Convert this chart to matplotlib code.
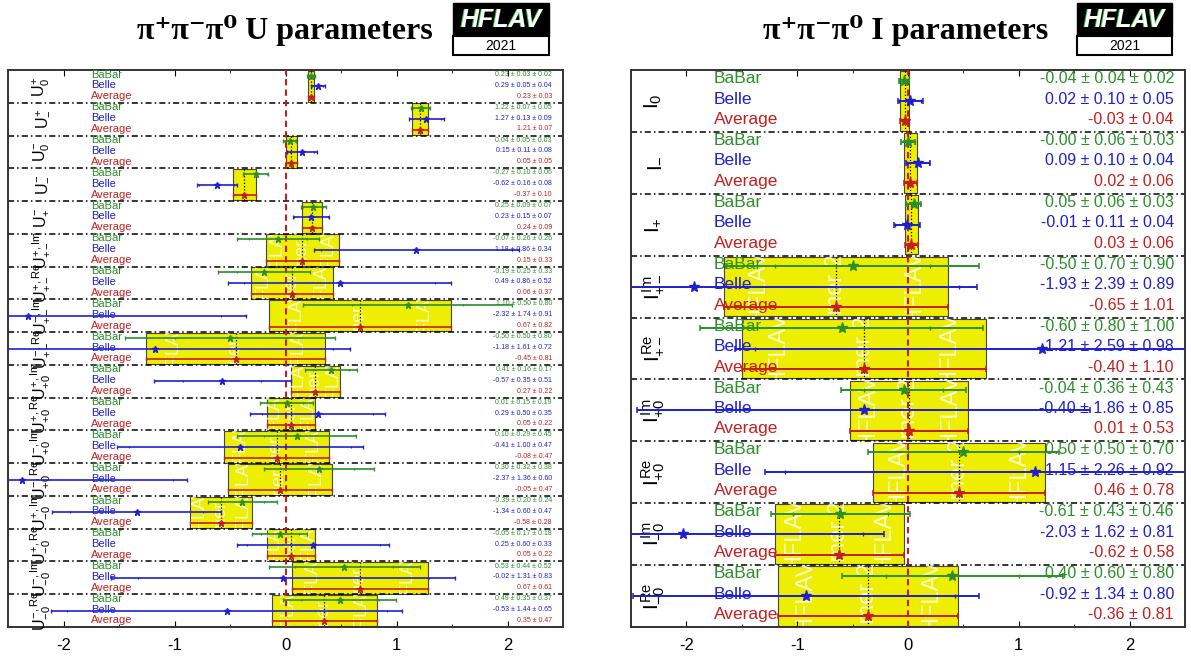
import numpy as np
import matplotlib
matplotlib.use('Agg')
import matplotlib.pyplot as plt
from matplotlib.patches import Rectangle

plt.rcParams['font.family'] = ['Liberation Sans', 'DejaVu Sans']
plt.rcParams['mathtext.fontset'] = 'custom'
plt.rcParams['mathtext.rm'] = 'Liberation Sans'
plt.rcParams['mathtext.it'] = 'Liberation Sans'
plt.rcParams['mathtext.bf'] = 'Liberation Sans:bold'
plt.rcParams['axes.unicode_minus'] = False

# U parameters (left panel)
u_labels = [r'$U_{0}^{+}$', r'$U_{-}^{+}$', r'$U_{0}^{-}$', r'$U_{-}^{-}$', r'$U_{+}^{-}$',
            r'$U_{+-}^{+,Im}$', r'$U_{+-}^{+,Re}$', r'$U_{+-}^{-,Im}$', r'$U_{+-}^{-,Re}$',
            r'$U_{+0}^{+,Im}$', r'$U_{+0}^{+,Re}$', r'$U_{+0}^{-,Im}$', r'$U_{+0}^{-,Re}$',
            r'$U_{-0}^{+,Im}$', r'$U_{-0}^{+,Re}$', r'$U_{-0}^{-,Im}$', r'$U_{-0}^{-,Re}$']
u_babar = [0.23, 1.22, 0.04, -0.27, 0.25, -0.07, -0.19, 1.10, -0.50, 0.41, 0.01, 0.10, 0.30, -0.39, -0.05, 0.53, 0.49]
u_babar_stat = [0.03, 0.07, 0.05, 0.10, 0.09, 0.26, 0.25, 0.50, 0.50, 0.16, 0.15, 0.29, 0.32, 0.20, 0.17, 0.44, 0.35]
u_babar_syst = [0.02, 0.05, 0.03, 0.06, 0.07, 0.26, 0.33, 0.80, 0.80, 0.17, 0.19, 0.45, 0.38, 0.24, 0.18, 0.52, 0.37]
u_belle = [0.29, 1.27, 0.15, -0.62, 0.23, 1.18, 0.49, -2.32, -1.18, -0.57, 0.29, -0.41, -2.37, -1.34, 0.25, -0.02, -0.53]
u_belle_stat = [0.05, 0.13, 0.11, 0.16, 0.15, 0.86, 0.86, 1.74, 1.61, 0.35, 0.50, 1.00, 1.36, 0.60, 0.60, 1.31, 1.44]
u_belle_syst = [0.04, 0.09, 0.08, 0.08, 0.07, 0.34, 0.52, 0.91, 0.72, 0.51, 0.35, 0.47, 0.60, 0.47, 0.33, 0.83, 0.65]
u_avg = [0.23, 1.21, 0.05, -0.37, 0.24, 0.15, 0.06, 0.67, -0.45, 0.27, 0.05, -0.08, -0.05, -0.58, 0.05, 0.67, 0.35]
u_avg_err = [0.03, 0.07, 0.05, 0.10, 0.09, 0.33, 0.37, 0.82, 0.81, 0.22, 0.22, 0.47, 0.47, 0.28, 0.22, 0.61, 0.47]

# I parameters (right panel)
i_labels = [r'$I_{0}$', r'$I_{-}$', r'$I_{+}$', r'$I_{+-}^{Im}$', r'$I_{+-}^{Re}$',
            r'$I_{+0}^{Im}$', r'$I_{+0}^{Re}$', r'$I_{-0}^{Im}$', r'$I_{-0}^{Re}$']
i_babar = [-0.04, -0.00, 0.05, -0.50, -0.60, -0.04, 0.50, -0.61, 0.40]
i_babar_stat = [0.04, 0.06, 0.06, 0.70, 0.80, 0.36, 0.50, 0.43, 0.60]
i_babar_syst = [0.02, 0.03, 0.03, 0.90, 1.00, 0.43, 0.70, 0.46, 0.80]
i_belle = [0.02, 0.09, -0.01, -1.93, 1.21, -0.40, 1.15, -2.03, -0.92]
i_belle_stat = [0.10, 0.10, 0.11, 2.39, 2.59, 1.86, 2.26, 1.62, 1.34]
i_belle_syst = [0.05, 0.04, 0.04, 0.89, 0.98, 0.85, 0.92, 0.81, 0.80]
i_avg = [-0.03, 0.02, 0.03, -0.65, -0.40, 0.01, 0.46, -0.62, -0.36]
i_avg_err = [0.04, 0.06, 0.06, 1.01, 1.10, 0.53, 0.78, 0.58, 0.81]

GREEN = '#2b8f2b'
BLUE = '#1f1fcf'
RED = '#c41f1f'
YELLOW = '#eeee00'


def draw_panel(ax, labels, bb, bb_st, bb_sy, be, be_st, be_sy, av, av_err,
               fs_name, fs_val, fs_lab, fs_wm, ms, lw, lab_x):
    n = len(labels)
    ax.set_xlim(-2.5, 2.5)
    ax.set_ylim(n, 0)
    for i in range(n):
        lo = av[i] - av_err[i]
        rect = Rectangle((lo, i + 0.02), 2 * av_err[i], 0.96, facecolor=YELLOW,
                         edgecolor='#444444', lw=0.8, zorder=1)
        ax.add_patch(rect)
        # faint watermark inside the wider boxes
        if 2 * av_err[i] > 0.3:
            for k, wm in enumerate(['HFLAV', 'summer 2016', 'HFLAV']):
                t = ax.text(lo + (0.15 + 0.35 * k) * 2 * av_err[i], i + 0.5, wm, rotation=90,
                            color='white', fontsize=fs_wm, ha='center', va='center',
                            alpha=0.8, zorder=1.5, clip_on=True)
                t.set_clip_path(rect)
        ax.plot([av[i], av[i]], [i + 0.02, i + 0.98], ls=':', color='black', lw=0.9, zorder=2)

        rows = [('BaBar', bb[i], bb_st[i], bb_sy[i], GREEN, 0.17),
                ('Belle', be[i], be_st[i], be_sy[i], BLUE, 0.5),
                ('Average', av[i], av_err[i], None, RED, 0.83)]
        for name, v, st, sy, c, off in rows:
            y = i + off
            tot = np.hypot(st, sy) if sy is not None else st
            ax.plot([v - tot, v + tot], [y, y], color=c, lw=lw, zorder=4, solid_capstyle='butt')
            ax.plot([v - tot, v + tot], [y, y], ls='none', marker='|', ms=ms * 0.5,
                    mew=lw * 0.8, color=c, zorder=4)
            if sy is not None:
                ax.plot([v - st, v + st], [y, y], ls='none', marker='|', ms=ms * 0.4,
                        mew=lw * 0.7, color=c, zorder=4)
            ax.plot(v, y, marker='*', ms=ms, color=c, mec=c, ls='none', zorder=5)
            ax.text(-1.75, y - 0.03, name, color=c, fontsize=fs_name, ha='left', va='center', zorder=3)
            if sy is not None:
                s = f'{v:.2f} \u00b1 {st:.2f} \u00b1 {sy:.2f}'
            else:
                s = f'{v:.2f} \u00b1 {st:.2f}'
            ax.text(2.4, y - 0.03, s, color=c, fontsize=fs_val, ha='right', va='center', zorder=3)
        ax.text(lab_x, i + 0.5, labels[i], rotation=90, fontsize=fs_lab, ha='center',
                va='center', color='black', zorder=3)
        if i > 0:
            ax.axhline(i, color='black', lw=1.1, ls=(0, (4, 2, 1, 2)), zorder=2)

    ax.axvline(0, color=RED, ls=(0, (3, 2)), lw=1.5, zorder=3)
    ax.set_xticks([-2, -1, 0, 1, 2])
    ax.set_xticks(np.arange(-2.5, 2.51, 0.5), minor=True)
    ax.tick_params(axis='x', which='both', direction='in', top=True, bottom=True,
                   length=4, labelsize=12, pad=8)
    ax.tick_params(axis='x', which='minor', length=2)
    ax.set_yticks([])
    for sp in ax.spines.values():
        sp.set_color('#333333')
        sp.set_linewidth(1.4)


fig = plt.figure(figsize=(11.91, 6.71), dpi=100)
W, H = 1191.0, 671.0
ax1 = fig.add_axes([8 / W, 1 - 627 / H, 555 / W, 557 / H])
ax2 = fig.add_axes([631 / W, 1 - 627 / H, 554 / W, 557 / H])

draw_panel(ax1, u_labels, u_babar, u_babar_stat, u_babar_syst, u_belle, u_belle_stat,
           u_belle_syst, u_avg, u_avg_err, fs_name=8, fs_val=5, fs_lab=11.5, fs_wm=13,
           ms=5, lw=1.2, lab_x=-2.2)
draw_panel(ax2, i_labels, i_babar, i_babar_stat, i_babar_syst, i_belle, i_belle_stat,
           i_belle_syst, i_avg, i_avg_err, fs_name=12.5, fs_val=11.5, fs_lab=15, fs_wm=17,
           ms=8, lw=1.4, lab_x=-2.3)

# titles
serif = ['Liberation Serif', 'DejaVu Serif']
fig.text(285 / W, 1 - 30 / H, '\u03c0\u207a\u03c0\u207b\u03c0\u2070 U parameters', family=serif,
         weight='bold', fontsize=23, ha='center', va='center')
fig.text(906 / W, 1 - 30 / H, '\u03c0\u207a\u03c0\u207b\u03c0\u2070 I parameters', family=serif,
         weight='bold', fontsize=23, ha='center', va='center')


def logo(x0, x1):
    fig.patches.append(Rectangle((x0 / W, 1 - 36 / H), (x1 - x0) / W, 33 / H,
                                 transform=fig.transFigure, facecolor='black',
                                 edgecolor='black', lw=1))
    fig.patches.append(Rectangle((x0 / W, 1 - 55 / H), (x1 - x0) / W, 19 / H,
                                 transform=fig.transFigure, facecolor='white',
                                 edgecolor='black', lw=1.5))
    xc = (x0 + x1) / 2
    fig.text(xc / W - 1.2 / W, 1 - 20 / H, 'HFLAV', color='#33cc33', fontsize=18,
             weight='bold', style='italic', ha='center', va='center')
    fig.text(xc / W, 1 - 20 / H, 'HFLAV', color='white', fontsize=18,
             weight='bold', style='italic', ha='center', va='center')
    fig.text(xc / W, 1 - 46 / H, '2021', color='black', fontsize=10, ha='center', va='center')


logo(453, 549)
logo(1077, 1172)

fig.savefig('out.png', dpi=100)
